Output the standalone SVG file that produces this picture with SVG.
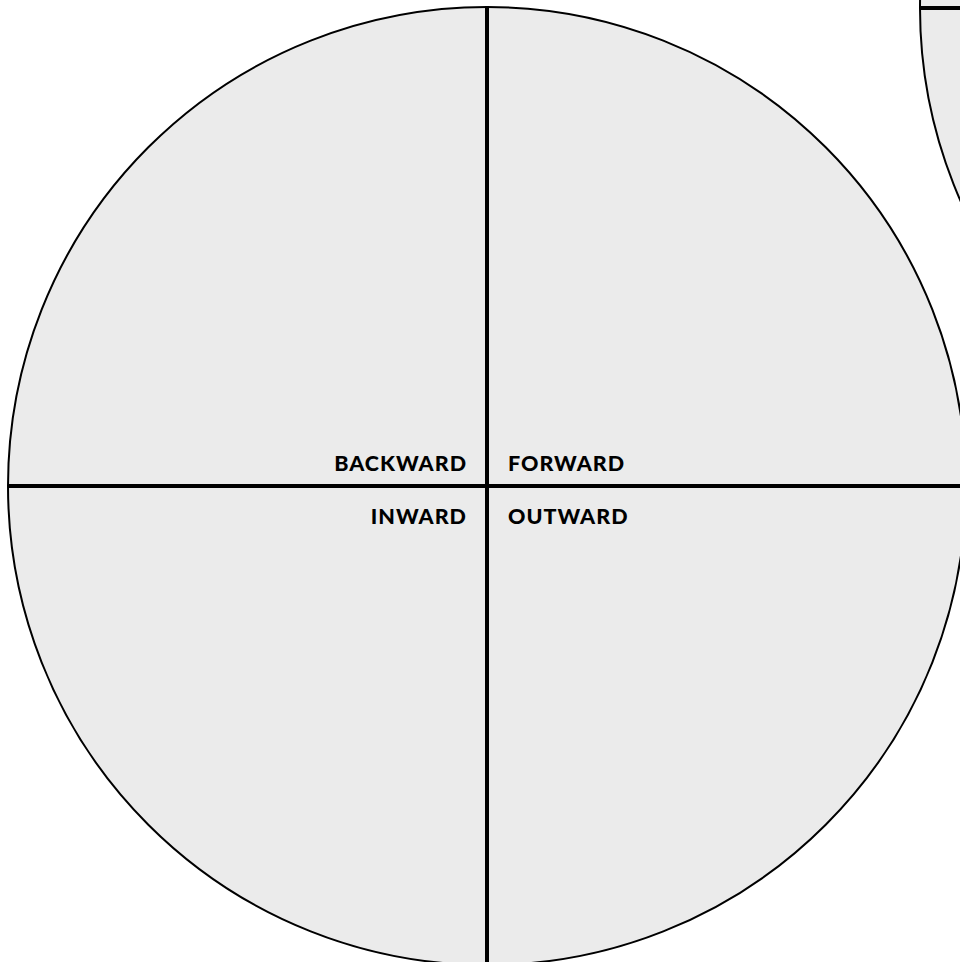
<svg xmlns="http://www.w3.org/2000/svg" width="960" height="962" viewBox="0 0 960 962">
<style>
.disc{fill:#ebebeb;stroke:#000;stroke-width:2}
.axis{stroke:#000;stroke-width:4;fill:none}
.lbl{font-family:Lato,"Liberation Sans",sans-serif;font-weight:900;font-size:21.5px;fill:#000;letter-spacing:1px}
</style>
<rect width="960" height="962" fill="#fff"/>
<g id="compass-2">
<circle class="disc" cx="1399" cy="8" r="479"/>
<line class="axis" x1="920" y1="8" x2="1880" y2="8"/>
</g>
<g id="compass">
<circle class="disc" cx="487" cy="486" r="479"/>
</g>
<g id="connectors">
<line class="axis" x1="8" y1="486" x2="966" y2="486"/>
<line class="axis" x1="487" y1="7" x2="487" y2="965"/>
</g>
<g id="label-backward"><text class="lbl" x="467" y="471" text-anchor="end">BACKWARD</text></g>
<g id="label-forward"><text class="lbl" x="508" y="471">FORWARD</text></g>
<g id="label-inward"><text class="lbl" x="467" y="524" text-anchor="end">INWARD</text></g>
<g id="label-outward"><text class="lbl" x="508" y="524">OUTWARD</text></g>
</svg>
